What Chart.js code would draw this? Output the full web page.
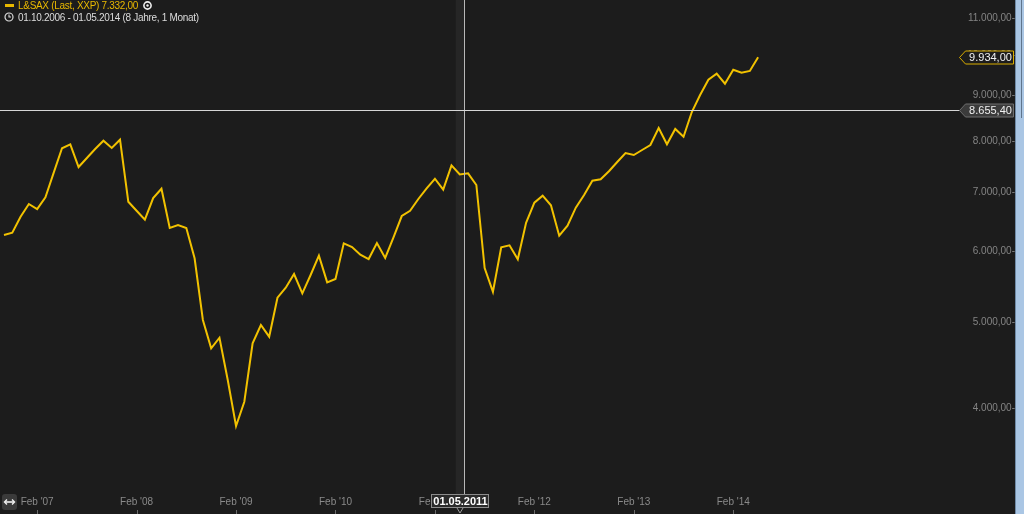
<!DOCTYPE html>
<html>
<head>
<meta charset="utf-8">
<script src="https://cdn.jsdelivr.net/npm/chart.js@4.4.1/dist/chart.umd.min.js"></script>
<style>
html,body{margin:0;padding:0;background:#1c1c1c;overflow:hidden}
#wrap{position:relative;width:1024px;height:514px;background:#1c1c1c}
#chart{position:absolute;left:0;top:0}
.hdr{position:absolute;left:18px;font-family:"Liberation Sans",Arial,sans-serif;font-size:10px;letter-spacing:-0.3px;white-space:pre;line-height:12px}
#l1{top:0;color:#e8b800}
#l2{top:11.5px;color:#dcdcdc}
.ico{position:absolute}
#scroll{position:absolute;left:1015px;top:0;width:9px;height:514px;background:#aac6e4;border-left:1px solid #6f8aa6;box-sizing:border-box}
#thumb{position:absolute;left:1021px;top:0;width:1px;height:118px;background:#60758c}
#zoombtn{position:absolute;left:2px;top:494px;width:15px;height:16px;background:#3a3a3a;border-radius:3px}
</style>
</head>
<body>
<div id="wrap">
  <canvas id="chart" width="1024" height="514"></canvas>
  <svg class="ico" style="left:5px;top:4px" width="9" height="4"><rect width="9" height="3" fill="#e8b800"/></svg>
  <div class="hdr" id="l1">L&amp;SAX (Last, XXP) 7.332,00</div>
  <svg class="ico" style="left:143px;top:1px" width="9" height="9"><circle cx="4.5" cy="4.5" r="3.6" fill="none" stroke="#f0f0f0" stroke-width="1.6"/><circle cx="4.5" cy="4.5" r="1.2" fill="#f0f0f0"/></svg>
  <svg class="ico" style="left:4px;top:12px" width="10" height="10"><circle cx="5" cy="5" r="4" fill="none" stroke="#dcdcdc" stroke-width="1.2"/><path d="M5 2.6V5H7" fill="none" stroke="#dcdcdc" stroke-width="1.1"/></svg>
  <div class="hdr" id="l2">01.10.2006 - 01.05.2014 (8 Jahre, 1 Monat)</div>
  <div id="zoombtn"><svg width="15" height="16"><path d="M3 8H12" stroke="#f0f0f0" stroke-width="1.6"/><path d="M5 5.5L2.5 8L5 10.5M10 5.5L12.5 8L10 10.5" fill="none" stroke="#f0f0f0" stroke-width="1.4"/></svg></div>
  <div id="scroll"></div>
  <div id="thumb"></div>
</div>
<script>
// Monatswerte L&SAX, 01.10.2006 - 01.05.2014
const startYear = 2006;
const startMonth = 10;
const axisMonths = 116; // x-Achse läuft rechts noch weiter
const closeValues = [
  6266, 6303, 6570, 6790, 6702, 6909, 7365, 7846, 7927, 7474,
  7651, 7831, 8002, 7852, 8022, 6831, 6673, 6519, 6896, 7065,
  6380, 6430, 6380, 5898, 5026, 4670, 4800, 4301, 3818, 4066,
  4731, 4961, 4813, 5325, 5465, 5663, 5386, 5648, 5938, 5542,
  5590, 6132, 6074, 5954, 5887, 6137, 5903, 6228, 6582, 6673,
  6879, 7072, 7250, 7047, 7507, 7332, 7352, 7133, 5752, 5408,
  6069, 6100, 5883, 6468, 6813, 6938, 6768, 6254, 6418, 6726,
  6951, 7212, 7239, 7392, 7572, 7750, 7710, 7811, 7913, 8270,
  7927, 8249, 8085, 8620, 9009, 9374, 9521, 9277, 9620, 9546,
  9588, 9934
];
const yTicks = [4000, 5000, 6000, 7000, 8000, 9000, 10000, 11000];
const yMin = 3234;
const yMax = 11526;
const lastValue = 9934;
const crossIndex = 55;      // 01.05.2011
const crossValue = 8655.40;

let monthLabels = [];
for (let i = 0; i < axisMonths; i++) {
    let m = (startMonth - 1 + i) % 12 + 1;
    let y = startYear + Math.floor((startMonth - 1 + i) / 12);
    monthLabels.push("01." + String(m).padStart(2, "0") + "." + y);
}

function fmtDe(v){
    let parts = v.toFixed(2).split(".");
    let intPart = parts[0].replace(/\B(?=(\d{3})+(?!\d))/g, ".");
    return intPart + "," + parts[1];
}

function labelBox(ctx, x, y, w, h, text, fill, stroke){
    // Kasten mit Spitze nach links
    ctx.beginPath();
    ctx.moveTo(x, y);
    ctx.lineTo(x + 6, y - h / 2);
    ctx.lineTo(x + w, y - h / 2);
    ctx.lineTo(x + w, y + h / 2);
    ctx.lineTo(x + 6, y + h / 2);
    ctx.closePath();
    ctx.fillStyle = fill;
    ctx.fill();
    ctx.strokeStyle = stroke;
    ctx.lineWidth = 1;
    ctx.stroke();
    ctx.fillStyle = "#f0f0f0";
    ctx.font = "11px 'Liberation Sans', Arial, sans-serif";
    ctx.textAlign = "center";
    ctx.textBaseline = "middle";
    ctx.fillText(text, x + 4 + w / 2, y + 0.5);
}

const crosshair = {
    id: "crosshair",
    beforeDatasetsDraw(chart){
        const ctx = chart.ctx;
        const xs = chart.scales.x;
        let x0 = xs.getPixelForValue(crossIndex - 0.5);
        let x1 = xs.getPixelForValue(crossIndex + 0.5);
        ctx.save();
        ctx.fillStyle = "#262626";
        ctx.fillRect(x0, 0, x1 - x0, 494);
        ctx.restore();
    },
    afterDatasetsDraw(chart){
        const ctx = chart.ctx;
        const xs = chart.scales.x;
        const ys = chart.scales.y;
        let x = Math.round(xs.getPixelForValue(crossIndex + 0.5)) + 0.5;
        let y = Math.round(ys.getPixelForValue(crossValue)) + 0.5;
        ctx.save();
        ctx.strokeStyle = "#b8b8b8";
        ctx.lineWidth = 1;
        ctx.beginPath();
        ctx.moveTo(x, 0);
        ctx.lineTo(x, 494);
        ctx.stroke();
        ctx.strokeStyle = "#d6d6d6";
        ctx.beginPath();
        ctx.moveTo(0, y);
        ctx.lineTo(962, y);
        ctx.stroke();
        ctx.restore();
    },
    afterDraw(chart){
        const ctx = chart.ctx;
        const xs = chart.scales.x;
        const ys = chart.scales.y;
        ctx.save();
        // Striche unten an der Zeitachse
        ctx.strokeStyle = "#6a6a6a";
        ctx.lineWidth = 1;
        xs.ticks.forEach(function(t){
            let px = Math.round(xs.getPixelForValue(t.value)) + 0.5;
            ctx.beginPath();
            ctx.moveTo(px, 510);
            ctx.lineTo(px, 514);
            ctx.stroke();
        });
        labelBox(ctx, 959.5, Math.round(ys.getPixelForValue(lastValue)) + 0.5, 54, 13, fmtDe(lastValue), "#1c1c1c", "#d9ad00");
        labelBox(ctx, 959.5, Math.round(ys.getPixelForValue(crossValue)) + 0.5, 54, 13, fmtDe(crossValue), "#3b3b3b", "#6e6e6e");

        // Datum unten
        let cx = Math.round(xs.getPixelForValue(crossIndex));
        ctx.fillStyle = "#2b2b2b";
        ctx.strokeStyle = "#8c8c8c";
        ctx.fillRect(cx - 28.5, 494.5, 57, 13);
        ctx.strokeRect(cx - 28.5, 494.5, 57, 13);
        ctx.beginPath();
        ctx.moveTo(cx - 3, 508);
        ctx.lineTo(cx, 513);
        ctx.lineTo(cx + 3, 508);
        ctx.strokeStyle = "#9a9a9a";
        ctx.stroke();
        ctx.fillStyle = "#ffffff";
        ctx.font = "bold 11px 'Liberation Sans', Arial, sans-serif";
        ctx.textAlign = "center";
        ctx.textBaseline = "middle";
        ctx.fillText(monthLabels[crossIndex], cx + 0.5, 501.5);
        ctx.restore();
    }
};

let ctx = document.getElementById("chart");
let chart = new Chart(ctx, {
    type: "line",
    data: {
        labels: monthLabels,
        datasets: [
            {
                label: "L&SAX (Last, XXP)",
                data: closeValues,
                borderColor: "#f2c200",
                borderWidth: 2,
                pointRadius: 0,
                tension: 0,
                fill: false
            }
        ]
    },
    options: {
        responsive: false,
        animation: false,
        devicePixelRatio: 1,
        layout: { padding: { left: 4, right: 9, top: 0, bottom: 0 } },
        plugins: { legend: { display: false }, tooltip: { enabled: false } },
        scales: {
            x: {
                type: "category",
                offset: false,
                grid: { display: false, drawTicks: false },
                border: { display: false },
                ticks: {
                    autoSkip: false,
                    maxRotation: 0,
                    padding: 6,
                    color: "#8a8a8a",
                    font: { family: "'Liberation Sans', Arial, sans-serif", size: 10 },
                    callback: function(v){
                        let l = monthLabels[v];
                        return "Feb '" + l.slice(8);
                    }
                },
                afterBuildTicks: function(scale){
                    // nur Februar-Ticks innerhalb der Daten
                    scale.ticks = scale.ticks.filter(function(t){
                        return t.value < closeValues.length && monthLabels[t.value].slice(3, 5) === "02";
                    });
                },
                afterFit: function(scale){
                    scale.height = 24;
                    scale.paddingLeft = 0;
                    scale.paddingRight = 0;
                }
            },
            y: {
                type: "logarithmic",
                position: "right",
                min: yMin,
                max: yMax,
                grid: { display: false, drawTicks: false },
                border: { display: false },
                ticks: {
                    crossAlign: "far",
                    padding: 12,
                    color: "#848484",
                    font: { family: "'Liberation Sans', Arial, sans-serif", size: 10 },
                    callback: function(v){ return fmtDe(v) + "-"; }
                },
                afterBuildTicks: function(scale){
                    scale.ticks = yTicks.map(function(v){ return { value: v }; });
                },
                afterFit: function(scale){
                    scale.width = 58;
                    scale.paddingTop = 0;
                    scale.paddingBottom = 0;
                }
            }
        }
    },
    plugins: [crosshair]
});
</script>
</body>
</html>
